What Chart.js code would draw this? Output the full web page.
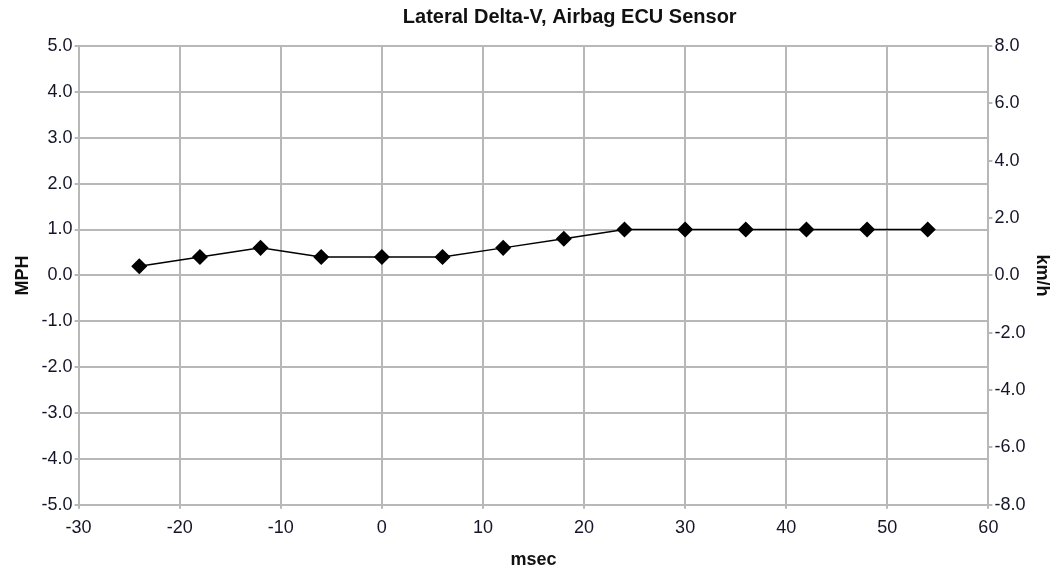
<!DOCTYPE html>
<html>
<head>
<meta charset="utf-8">
<script src="https://cdn.jsdelivr.net/npm/chart.js@4"></script>
<style>
  html, body { margin: 0; padding: 0; background: #fff; }
  #wrap { width: 1059px; height: 571px; }
</style>
</head>
<body>
<div id="wrap"><canvas id="chart"></canvas></div>
<script>
const chartTitle = 'Lateral Delta-V, Airbag ECU Sensor';
const msec = [-24, -18, -12, -6, 0, 6, 12, 18, 24, 30, 36, 42, 48, 54];
const mph = [0.2, 0.4, 0.6, 0.4, 0.4, 0.4, 0.6, 0.8, 1.0, 1.0, 1.0, 1.0, 1.0, 1.0];

const points = msec.map((x, i) => ({ x: x, y: mph[i] }));
const gridColor = '#b8b8b8';
const tickColor = '#15152a';
const tickFont = { family: 'Liberation Sans', size: 18 };
const labelFont = { family: 'Liberation Sans', size: 18, weight: 'bold' };

// title sits a little right of centre in the original
const titlePlugin = {
    id: 'offsetTitle',
    afterDraw(chart) {
        const ctx = chart.ctx;
        ctx.save();
        ctx.font = 'bold 20px "Liberation Sans"';
        ctx.fillStyle = '#111';
        ctx.textAlign = 'center';
        ctx.textBaseline = 'middle';
        ctx.fillText(chartTitle, chart.width * 0.538, 17);
        ctx.restore();
    }
};

new Chart(document.getElementById('chart'), {
    type: 'line',
    data: {
        datasets: [{
            data: points,
            borderColor: '#000',
            borderWidth: 1.5,
            backgroundColor: '#000',
            pointStyle: 'rectRot',
            pointRadius: 7,
            pointHoverRadius: 7,
            tension: 0
        }]
    },
    options: {
        responsive: true,
        maintainAspectRatio: false,
        animation: false,
        layout: { padding: { top: 46, left: 8, right: 0, bottom: 0 } },
        plugins: {
            legend: { display: false },
            tooltip: { enabled: false },
            title: { display: false }
        },
        scales: {
            x: {
                type: 'linear',
                min: -30,
                max: 60,
                ticks: { stepSize: 10, color: tickColor, font: tickFont, padding: 8 },
                grid: { color: gridColor, lineWidth: 2, tickLength: 4 },
                border: { color: gridColor, width: 2 },
                title: { display: true, text: 'msec', color: '#111', font: labelFont, padding: { top: 3, bottom: 0 } }
            },
            y: {
                position: 'left',
                min: -5,
                max: 5,
                ticks: { stepSize: 1, color: tickColor, font: tickFont, padding: 2,
                    callback: v => v.toFixed(1) },
                grid: { color: gridColor, lineWidth: 2, tickLength: 4 },
                border: { color: gridColor, width: 2 },
                title: { display: true, text: 'MPH', color: '#111', font: labelFont, padding: { bottom: 6 } }
            },
            y1: {
                position: 'right',
                min: -8,
                max: 8,
                ticks: { stepSize: 2, color: tickColor, font: tickFont, padding: 2,
                    callback: v => v.toFixed(1) },
                grid: { drawOnChartArea: false, color: gridColor, lineWidth: 2, tickLength: 4 },
                border: { color: gridColor, width: 2 },
                title: { display: true, text: 'km/h', color: '#111', font: labelFont, padding: { top: 6 } }
            }
        }
    },
    plugins: [titlePlugin]
});
</script>
</body>
</html>
